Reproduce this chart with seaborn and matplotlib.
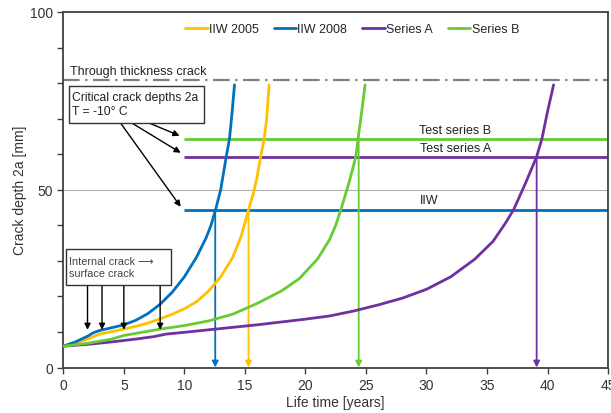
import numpy as np
import pandas as pd
import matplotlib
matplotlib.use("Agg")
import matplotlib.pyplot as plt
from matplotlib.patches import Rectangle
import seaborn as sns

# Crack growth curves: life time [years] vs crack depth 2a [mm]
iiw2005_x = [0, 1, 2, 3, 4, 5, 6, 7, 8, 9, 10, 11, 12, 13, 14, 14.7, 15.3, 15.7, 16.0, 16.3, 16.6, 16.8, 17.0]
iiw2005_y = [6, 6.8, 8.0, 9.4, 10.1, 10.8, 11.6, 12.5, 13.7, 15.0, 16.5, 18.5, 21.5, 25.5, 31, 37, 44.4, 49, 53.5, 59.3, 64.4, 70, 79.5]

iiw2008_x = [0, 1, 2, 2.5, 3, 4, 5, 6, 7, 8, 9, 10, 11, 11.8, 12.2, 12.58, 13.0, 13.46, 13.73, 13.95, 14.14]
iiw2008_y = [6, 7.2, 8.8, 9.8, 10.4, 11.2, 12.0, 13.3, 15.2, 17.8, 21.2, 25.5, 31, 36.5, 40, 44.4, 50, 59.3, 64.4, 72, 79.5]

series_a_x = [0, 2, 4, 6, 7.5, 8.5, 10, 12, 14, 16, 18, 20, 22, 24, 26, 28, 30, 32, 34, 35.5, 36.5, 37.2, 38.2, 39.1, 39.54, 40.0, 40.5]
series_a_y = [6, 6.5, 7.2, 8.0, 8.7, 9.4, 9.9, 10.6, 11.3, 12.0, 12.8, 13.6, 14.5, 15.9, 17.6, 19.5, 22, 25.5, 30.5, 35.5, 40.5, 44.4, 52, 59.3, 64.4, 72, 79.5]

series_b_x = [0, 2, 4, 5, 6, 8, 10, 12, 14, 16, 18, 19.5, 21, 22, 22.5, 22.93, 23.6, 24.17, 24.35, 24.65, 24.93]
series_b_y = [6, 6.8, 8.0, 9.0, 9.6, 10.8, 11.8, 13.1, 15.0, 18.0, 21.5, 25, 30.5, 36, 40, 44.4, 52, 59.3, 64.4, 72, 79.5]

series_names = ["IIW 2005", "IIW 2008", "Series A", "Series B"]
colors = {"IIW 2005": "#FFC000", "IIW 2008": "#0070C0",
          "Series A": "#7030A0", "Series B": "#66CC33"}

# Critical crack depths and resulting life times
critical_labels = ["IIW", "Test series A", "Test series B"]
critical_depths = [44.4, 59.3, 64.4]
critical_colors = ["#0070C0", "#7030A0", "#66CC33"]
through_thickness = 81

life_times = [12.55, 15.3, 24.4, 39.1]
life_levels = [44.4, 44.4, 64.4, 59.3]
life_colors = ["#0070C0", "#FFC000", "#66CC33", "#7030A0"]

transition_x = [2, 3.2, 5, 8]

frames = []
for name, xs, ys in [("IIW 2005", iiw2005_x, iiw2005_y),
                     ("IIW 2008", iiw2008_x, iiw2008_y),
                     ("Series A", series_a_x, series_a_y),
                     ("Series B", series_b_x, series_b_y)]:
    frames.append(pd.DataFrame({"t": xs, "a": ys, "series": name}))
df = pd.concat(frames, ignore_index=True)

sns.set_theme(style="ticks")
plt.rcParams["font.family"] = ["Liberation Sans", "DejaVu Sans"]

fig = plt.figure(figsize=(6.11, 4.14), dpi=100)
ax = fig.add_axes([0.1036, 0.1099, 0.8916, 0.8587])

ax.axhline(50, color="#b0b0b0", lw=0.8, zorder=0)
ax.axhline(through_thickness, color="#808080", lw=1.6,
           dashes=(7.5, 2.5, 1, 2.5), zorder=1)

sns.lineplot(data=df, x="t", y="a", hue="series", hue_order=series_names,
             palette=colors, sort=False, estimator=None, lw=2, ax=ax, zorder=3)

for depth, c in zip(critical_depths, critical_colors):
    ax.hlines(depth, 10, 45, color=c, lw=2, zorder=2)

for t, lvl, c in zip(life_times, life_levels, life_colors):
    ax.annotate("", xy=(t, 0), xytext=(t, lvl),
                arrowprops=dict(arrowstyle="-|>", color=c, lw=1.3,
                                mutation_scale=9, shrinkA=0, shrinkB=0),
                zorder=2)

ax.set_xlim(0, 45)
ax.set_ylim(0, 100)
ax.set_xticks(np.arange(0, 46, 5))
ax.set_yticks([0, 50, 100])
ax.set_yticks(np.arange(0, 101, 10), minor=True)
ax.tick_params(axis="both", which="both", direction="out", length=4,
               width=1, color="#404040", labelsize=10, labelcolor="#333333")
for s in ax.spines.values():
    s.set_color("#404040")
    s.set_linewidth(1.3)

ax.set_xlabel("Life time [years]", fontsize=10, color="#333333", labelpad=2)
ax.set_ylabel("Crack depth 2a [mm]", fontsize=10, color="#333333", labelpad=2)

ax.legend(loc="center", bbox_to_anchor=(0.53, 0.952), ncol=4, frameon=False,
          fontsize=9, handlelength=1.8, handletextpad=0.1, columnspacing=1.2,
          borderaxespad=0)

# Text labels
ax.text(0.55, 81.8, "Through thickness crack", fontsize=9, color="#222222",
        va="bottom", ha="left")
ax.text(32.4, 65.2, "Test series B", fontsize=9, color="#222222",
        ha="center", va="bottom")
ax.text(32.4, 60.1, "Test series A", fontsize=9, color="#222222",
        ha="center", va="bottom")
ax.text(30.2, 45.3, "IIW", fontsize=9, color="#222222",
        ha="center", va="bottom")

# Box for critical crack depths
ax.add_patch(Rectangle((0.47, 68.9), 11.13, 10.4, fc="white", ec="#333333",
                       lw=1, zorder=4))
ax.text(0.72, 74.1, "Critical crack depths 2a\nT = -10° C", fontsize=8.7,
        color="#222222", ha="left", va="center", linespacing=1.25, zorder=5)

arrow_kw = dict(arrowstyle="-|>", color="black", lw=1, mutation_scale=9,
                shrinkA=0, shrinkB=0)
ax.annotate("", xy=(9.7, 45.2), xytext=(4.7, 68.9), arrowprops=arrow_kw)
ax.annotate("", xy=(9.7, 60.4), xytext=(5.6, 68.9), arrowprops=arrow_kw)
ax.annotate("", xy=(9.6, 65.2), xytext=(7.0, 68.9), arrowprops=arrow_kw)

# Box for the internal-to-surface crack transition
ax.add_patch(Rectangle((0.22, 23.2), 8.68, 10.2, fc="white", ec="#333333",
                       lw=1, zorder=4))
ax.text(0.5, 28.3, "Internal crack \u27f6\nsurface crack", fontsize=7.8,
        color="#444444", ha="left", va="center", linespacing=1.3, zorder=5)
for tx in transition_x:
    ax.annotate("", xy=(tx, 10.6), xytext=(tx, 23.2), arrowprops=arrow_kw)

fig.savefig("out.png", dpi=100)
